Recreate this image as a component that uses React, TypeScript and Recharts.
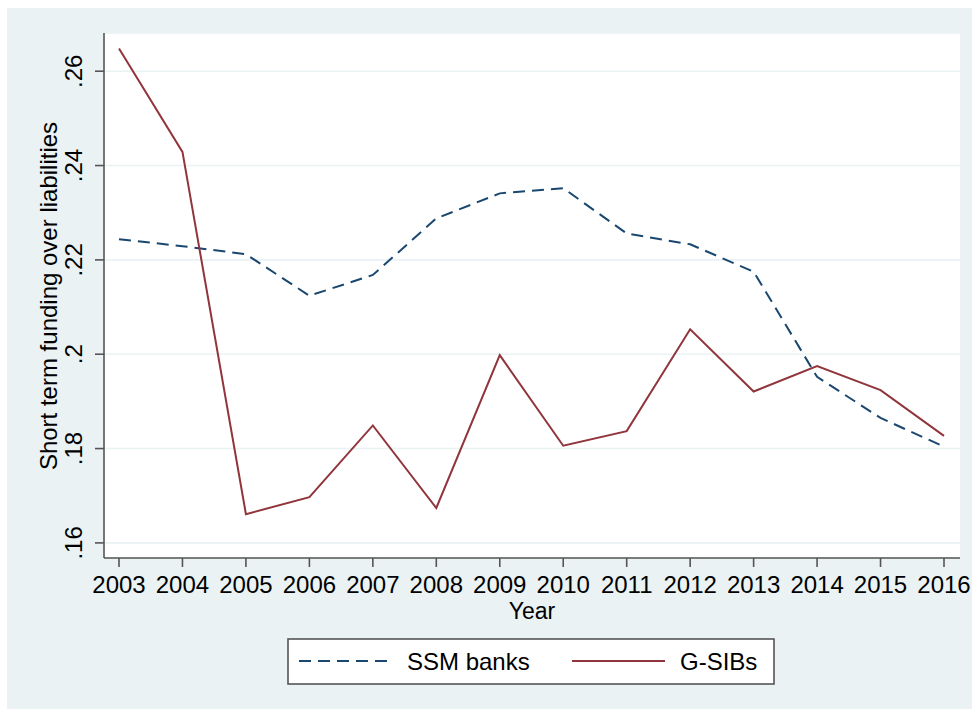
import { CartesianGrid, Legend, Line, LineChart, XAxis, YAxis } from "recharts";

const years = [2003, 2004, 2005, 2006, 2007, 2008, 2009, 2010, 2011, 2012, 2013, 2014, 2015, 2016];
const ssmBanks = [0.2244, 0.2229, 0.2212, 0.2124, 0.2168, 0.2288, 0.2341, 0.2352, 0.2256, 0.2233, 0.2175, 0.1952, 0.1865, 0.1804];
const gsibs = [0.2648, 0.2429, 0.1661, 0.1697, 0.1849, 0.1674, 0.1998, 0.1806, 0.1837, 0.2053, 0.1921, 0.1975, 0.1924, 0.1827];
const yTicks = [0.16, 0.18, 0.2, 0.22, 0.24, 0.26];

const data = years.map((year, i) => ({ year, ssm: ssmBanks[i], gsib: gsibs[i] }));

const NAVY = "#1a476f";
const MAROON = "#90353b";
const AXIS = "#555555";
const FONT = "'Liberation Sans', Arial, Helvetica, sans-serif";

const fmtY = (v: number) => Number(v.toFixed(2)).toString().replace(/^0/, "");

const YTick = (props: any) => {
  const { y, payload } = props;
  return (
    <text
      x={74}
      y={y}
      transform={`rotate(-90, 74, ${y})`}
      textAnchor="middle"
      dominantBaseline="central"
      fontSize={24}
      fontFamily={FONT}
      fill="#000"
    >
      {fmtY(payload.value)}
    </text>
  );
};

const XTick = (props: any) => {
  const { x, payload } = props;
  return (
    <text x={x} y={584} textAnchor="middle" dominantBaseline="central" fontSize={24} fontFamily={FONT} fill="#000">
      {payload.value}
    </text>
  );
};

const LegendBox = () => (
  <svg width={488} height={47} style={{ display: "block" }}>
    <rect x={1} y={1} width={486} height={45} fill="#fff" stroke={AXIS} strokeWidth={1.6} />
    <line x1={12} y1={23} x2={104} y2={23} stroke={NAVY} strokeWidth={2} strokeDasharray="12 7" />
    <text x={120} y={23} dominantBaseline="central" fontSize={24} fontFamily={FONT} fill="#000">
      SSM banks
    </text>
    <line x1={285} y1={23} x2={378} y2={23} stroke={MAROON} strokeWidth={2} />
    <text x={393} y={23} dominantBaseline="central" fontSize={24} fontFamily={FONT} fill="#000">
      G-SIBs
    </text>
  </svg>
);

export default function App() {
  return (
    <div style={{ position: "absolute", left: 0, top: 0, width: 972, height: 710, background: "#fff" }}>
      <div style={{ position: "absolute", left: 7, top: 8, width: 965, height: 701, background: "#eaf2f3" }} />
      <div style={{ position: "absolute", left: 0, top: 0 }}>
        <LineChart width={972} height={710} data={data} margin={{ top: 33, right: 12, left: 0, bottom: 92 }}>
          <CartesianGrid vertical={false} stroke="#eaf2f3" strokeWidth={1.6} fill="#fff" />
          <XAxis
            dataKey="year"
            type="number"
            domain={[2003, 2016]}
            ticks={years}
            padding={{ left: 15, right: 16 }}
            height={60}
            stroke={AXIS}
            strokeWidth={1.6}
            tickSize={9}
            tick={<XTick />}
            label={{ value: "Year", position: "insideTop", offset: 45, fontSize: 23, fontFamily: FONT, fill: "#000" }}
          />
          <YAxis
            type="number"
            domain={[0.1568, 0.2681]}
            allowDataOverflow
            ticks={yTicks}
            width={104}
            stroke={AXIS}
            strokeWidth={1.6}
            tickSize={9}
            tick={<YTick />}
            label={{
              value: "Short term funding over liabilities",
              angle: -90,
              position: "center",
              content: () => (
                <text
                  x={48}
                  y={296}
                  transform="rotate(-90, 48, 296)"
                  textAnchor="middle"
                  dominantBaseline="central"
                  fontSize={24}
                  fontFamily={FONT}
                  fill="#000"
                >
                  Short term funding over liabilities
                </text>
              ),
            }}
          />
          <Legend
            layout="horizontal"
            verticalAlign="middle"
            align="center"
            content={() => <LegendBox />}
            wrapperStyle={{ position: "absolute", left: 287, top: 638, width: 488, height: 47 }}
          />
          <Line
            type="linear"
            dataKey="ssm"
            name="SSM banks"
            stroke={NAVY}
            strokeWidth={2}
            strokeDasharray="12 7"
            dot={false}
            activeDot={false}
            isAnimationActive={false}
          />
          <Line
            type="linear"
            dataKey="gsib"
            name="G-SIBs"
            stroke={MAROON}
            strokeWidth={2}
            dot={false}
            activeDot={false}
            isAnimationActive={false}
          />
        </LineChart>
      </div>
    </div>
  );
}
